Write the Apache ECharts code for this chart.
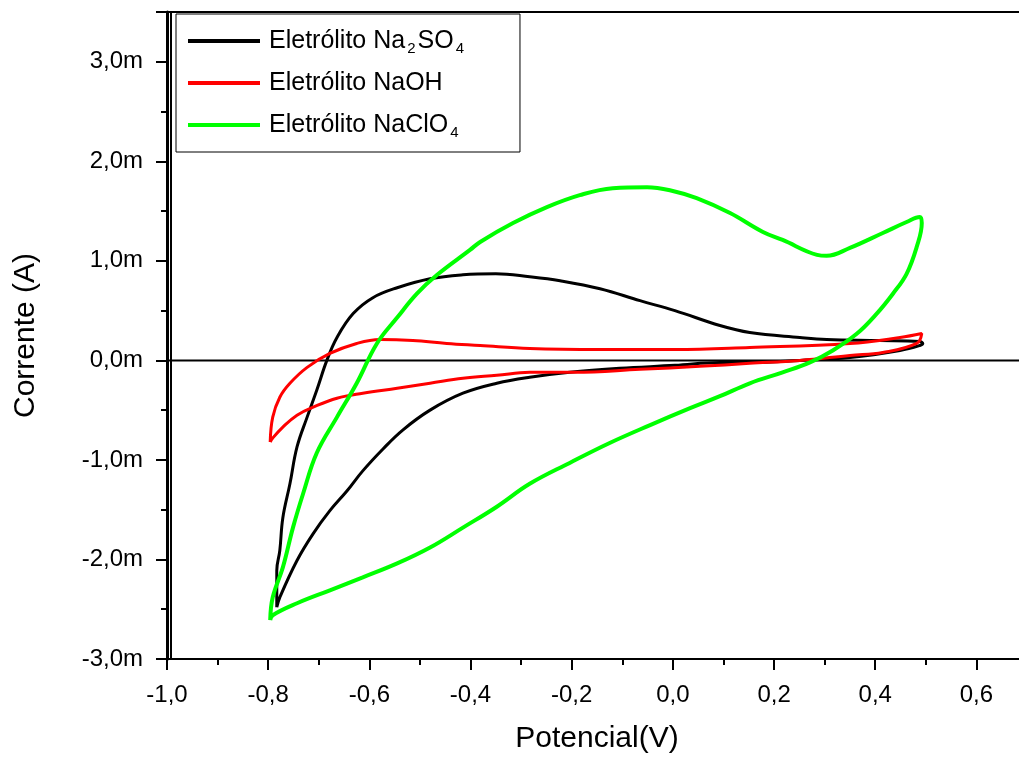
<!DOCTYPE html>
<html>
<head>
<meta charset="utf-8">
<script src="https://cdn.jsdelivr.net/npm/echarts@6/dist/echarts.min.js"></script>
<style>
html,body{margin:0;padding:0;background:#fff;}
#chart{width:1019px;height:758px;}
</style>
</head>
<body>
<div id="chart"></div>
<script>
// Potential (V), current (mA)
var na2so4 = [
  [-0.783,-2.48],[-0.783,-2.11],[-0.777,-1.91],[-0.771,-1.58],[-0.757,-1.24],[-0.743,-0.87],
  [-0.723,-0.57],[-0.704,-0.30],[-0.684,0.00],[-0.664,0.23],[-0.632,0.47],[-0.593,0.63],
  [-0.545,0.73],[-0.480,0.82],[-0.415,0.86],[-0.350,0.87],[-0.283,0.84],[-0.223,0.80],
  [-0.144,0.72],[-0.065,0.60],[0.004,0.50],[0.093,0.35],[0.152,0.28],[0.251,0.23],
  [0.304,0.21],[0.409,0.20],[0.488,0.19],[0.494,0.17],
  [0.488,0.15],[0.449,0.10],[0.350,0.03],[0.251,0.00],[0.152,-0.02],[0.093,-0.02],
  [0.004,-0.05],[-0.105,-0.08],[-0.204,-0.12],[-0.283,-0.17],[-0.348,-0.23],[-0.415,-0.33],
  [-0.480,-0.50],[-0.534,-0.70],[-0.573,-0.89],[-0.613,-1.11],[-0.644,-1.31],[-0.678,-1.51],
  [-0.711,-1.74],[-0.743,-2.01],[-0.777,-2.38],[-0.783,-2.48]
];
var naoh = [
  [-0.796,-0.82],[-0.791,-0.57],[-0.777,-0.37],[-0.757,-0.23],[-0.723,-0.07],[-0.678,0.07],
  [-0.625,0.17],[-0.579,0.21],[-0.514,0.20],[-0.447,0.17],[-0.381,0.15],[-0.283,0.12],
  [-0.144,0.11],[0.004,0.11],[0.152,0.13],[0.350,0.17],[0.449,0.23],[0.492,0.27],
  [0.482,0.17],[0.415,0.08],[0.350,0.05],[0.251,0.00],[0.152,-0.03],[0.053,-0.06],
  [-0.065,-0.09],[-0.194,-0.12],[-0.283,-0.12],[-0.348,-0.15],[-0.415,-0.18],[-0.480,-0.23],
  [-0.545,-0.28],[-0.613,-0.33],[-0.664,-0.38],[-0.711,-0.47],[-0.743,-0.55],[-0.771,-0.67],
  [-0.791,-0.78],[-0.796,-0.82]
];
var naclo4 = [
  [-0.796,-2.61],[-0.791,-2.38],[-0.771,-2.08],[-0.751,-1.68],[-0.731,-1.34],[-0.704,-0.93],
  [-0.664,-0.57],[-0.625,-0.23],[-0.585,0.17],[-0.545,0.43],[-0.506,0.67],[-0.466,0.86],
  [-0.401,1.11],[-0.381,1.19],[-0.316,1.38],[-0.249,1.54],[-0.184,1.66],[-0.119,1.73],
  [-0.051,1.74],[-0.006,1.71],[0.047,1.63],[0.113,1.48],[0.178,1.29],[0.217,1.21],
  [0.285,1.06],[0.304,1.05],[0.350,1.13],[0.415,1.28],[0.462,1.39],[0.488,1.44],
  [0.492,1.38],[0.482,1.14],[0.462,0.87],[0.435,0.67],[0.403,0.47],[0.364,0.27],
  [0.316,0.10],[0.271,-0.02],[0.217,-0.12],[0.152,-0.23],[0.093,-0.36],[0.034,-0.48],
  [-0.045,-0.65],[-0.125,-0.83],[-0.204,-1.03],[-0.283,-1.24],[-0.348,-1.47],[-0.415,-1.68],
  [-0.480,-1.88],[-0.545,-2.04],[-0.613,-2.18],[-0.678,-2.31],[-0.743,-2.44],[-0.791,-2.56],
  [-0.796,-2.61]
];
var zeroLine = [[-1.0,0],[0.7,0]];
var seriesNames = ['Na2SO4','NaOH','NaClO4'];
var xTitle = 'Potencial(V)';
var yTitle = 'Corrente (A)';

var FONT = 'Liberation Sans, Arial, sans-serif';
function fmt(v){ return v.toFixed(1).replace('.', ','); }

var chart = echarts.init(document.getElementById('chart'), null, {renderer:'canvas'});
var rich = {
  f:{fontFamily:FONT,fontSize:25,color:'#000',lineHeight:30,padding:[0,0,0,4]},
  t:{fontFamily:FONT,fontSize:25,color:'#000',lineHeight:30},
  s:{fontFamily:FONT,fontSize:15,color:'#000',lineHeight:30,verticalAlign:'bottom',padding:[0,2,0,2]}
};
chart.setOption({
  animation:false,
  backgroundColor:'#fff',
  grid:{left:167,top:12,width:860,height:647,outerBoundsMode:'none',containLabel:false,
        show:true,borderColor:'#000',borderWidth:2,backgroundColor:'transparent'},
  legend:{
    left:176, top:14, orient:'vertical',
    backgroundColor:'#fff', borderColor:'#000', borderWidth:1,
    padding:[12,54,12,12], itemGap:12, itemWidth:72, itemHeight:4, icon:'rect',
    data:seriesNames,
    formatter:function(n){
      if(n==='Na2SO4') return '{f|Eletrólito Na}{s|2}{t|SO}{s|4}';
      if(n==='NaOH') return '{f|Eletrólito NaOH}';
      return '{f|Eletrólito NaClO}{s|4}';
    },
    textStyle:{fontFamily:FONT,fontSize:25,color:'#000',lineHeight:30,height:30,rich:rich}
  },
  xAxis:{
    type:'value', min:-1.0, max:0.7, interval:0.2,
    name:xTitle, nameLocation:'middle', nameGap:65,
    nameTextStyle:{fontFamily:FONT,fontSize:30,color:'#000'},
    axisLine:{show:true,onZero:false,lineStyle:{color:'#000',width:2}},
    axisTick:{show:true,length:11,lineStyle:{color:'#000',width:2}},
    minorTick:{show:true,splitNumber:2,length:6,lineStyle:{color:'#000',width:2}},
    splitLine:{show:false},
    axisLabel:{fontFamily:FONT,fontSize:24,color:'#000',margin:24,formatter:fmt,showMaxLabel:false}
  },
  yAxis:[{
    type:'value', min:-3.0, max:3.5, interval:1.0, offset:0,
    name:yTitle, nameLocation:'middle', nameGap:126, nameRotate:90,
    nameTextStyle:{fontFamily:FONT,fontSize:30,color:'#000'},
    axisLine:{show:true,onZero:false,lineStyle:{color:'#000',width:3}},
    axisTick:{show:true,length:11,lineStyle:{color:'#000',width:2}},
    minorTick:{show:true,splitNumber:2,length:6,lineStyle:{color:'#000',width:2}},
    splitLine:{show:false},
    axisLabel:{fontFamily:FONT,fontSize:24,color:'#000',margin:24,
      formatter:function(v){ return v>3.01 ? '' : fmt(v)+'m'; }}
  },{
    type:'value', min:-3.0, max:3.5, interval:1.0, position:'left', offset:-4,
    axisLine:{show:true,onZero:false,lineStyle:{color:'#000',width:2}},
    axisTick:{show:false}, axisLabel:{show:false}, splitLine:{show:false}
  }],
  series:[
    {type:'line',name:'zero',data:zeroLine,showSymbol:false,silent:true,z:1,
     lineStyle:{color:'#000',width:2}},
    {type:'line',name:'Na2SO4',data:na2so4,showSymbol:false,smooth:0.4,z:2,
     color:'#000',lineStyle:{color:'#000',width:3}},
    {type:'line',name:'NaOH',data:naoh,showSymbol:false,smooth:0.4,z:3,
     color:'#ff0000',lineStyle:{color:'#ff0000',width:3}},
    {type:'line',name:'NaClO4',data:naclo4,showSymbol:false,smooth:0.4,z:4,
     color:'#00ff00',lineStyle:{color:'#00ff00',width:4}}
  ]
});
</script>
</body>
</html>
